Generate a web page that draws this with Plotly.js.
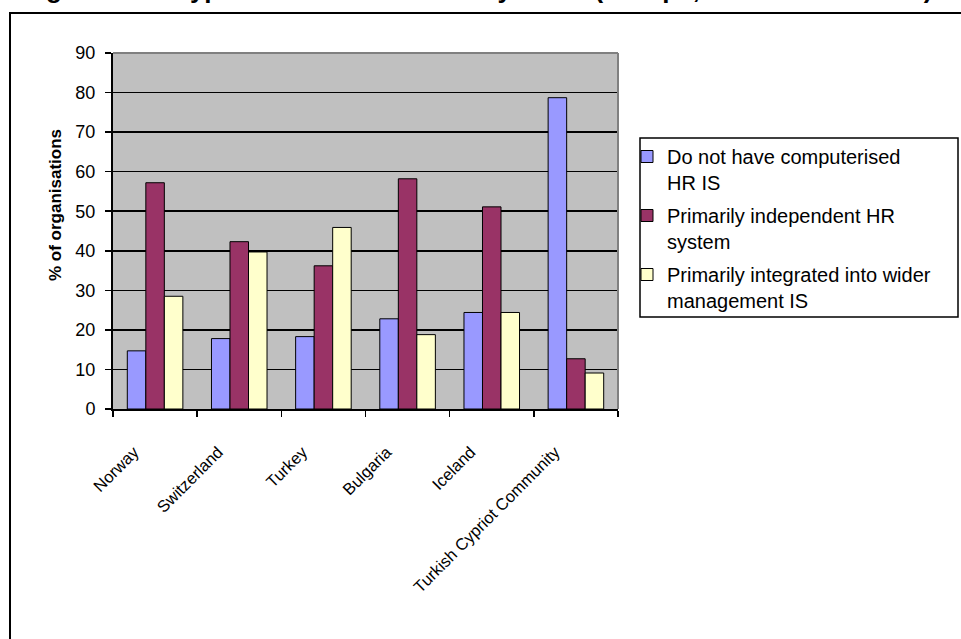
<!DOCTYPE html>
<html>
<head>
<meta charset="utf-8">
<script src="https://cdn.plot.ly/plotly-3.0.1.min.js"></script>
<style>html,body{margin:0;padding:0;background:#fff;}#chart{width:961px;height:639px;}</style>
</head>
<body>
<div id="chart"></div>
<script>
const countries = ["Norway", "Switzerland", "Turkey", "Bulgaria", "Iceland", "Turkish Cypriot Community"];
const seriesNames = ["Do not have computerised<br>HR IS", "Primarily independent HR<br>system", "Primarily integrated into wider<br>management IS"];
const noComputerised = [14.7, 17.8, 18.3, 22.8, 24.4, 78.7];
const independentHR = [57.2, 42.3, 36.2, 58.2, 51.1, 12.7];
const integratedIS = [28.5, 39.7, 45.9, 18.8, 24.4, 9.1];
const seriesColors = ["#9999FF", "#993366", "#FFFFCC"];
const titleText = "Figure 10.4: Types of HR information systems (Europe, non-EU countries)";
const yTitle = "% of organisations";

const FONT = "Liberation Sans, Arial, sans-serif";
const W = 961, H = 639;
const L = 113, R = 618, T = 53, B = 409;
const pw = R - L, ph = B - T;
const px = x => (x - L) / pw;
const py = y => (B - y) / ph;

const allValues = [noComputerised, independentHR, integratedIS];
const traces = allValues.map((vals, i) => ({
  type: "bar",
  name: seriesNames[i],
  legendgroup: "g" + i,
  x: countries,
  y: vals,
  marker: {color: seriesColors[i], line: {color: "#000000", width: 1}},
  hoverinfo: "x+y"
}));

const layout = {
  width: W, height: H,
  margin: {l: L, r: W - R, t: T, b: H - B, pad: 0},
  paper_bgcolor: "#FFFFFF",
  plot_bgcolor: "#C0C0C0",
  font: {family: FONT, color: "#000000"},
  barmode: "group",
  bargap: 0.34,
  bargroupgap: 0,
  title: {
    text: "<b>" + titleText + "</b>",
    font: {family: FONT, size: 26, color: "#000000"},
    xref: "container", yref: "container",
    x: 0.497, xanchor: "center",
    y: 1, yanchor: "bottom",
    pad: {b: 2, t: 0, l: 0, r: 0}
  },
  xaxis: {
    type: "category",
    showline: true, linecolor: "#000000", linewidth: 2,
    ticks: "outside", tickson: "boundaries", ticklen: 6, tickwidth: 1.5, tickcolor: "#000000",
    tickangle: -45,
    tickfont: {family: FONT, size: 16.5, color: "#000000"},
    ticklabelshift: -21,
    ticklabelstandoff: 25,
    showgrid: false, zeroline: false,
    fixedrange: true
  },
  yaxis: {
    range: [0, 90], dtick: 10, tick0: 0,
    showline: true, linecolor: "#000000", linewidth: 2,
    ticks: "outside", ticklen: 6, tickwidth: 1.5, tickcolor: "#000000",
    tickfont: {family: FONT, size: 18, color: "#000000"},
    ticklabelstandoff: 6,
    showgrid: true, gridcolor: "#000000", gridwidth: 1.5,
    zeroline: false,
    fixedrange: true
  },
  showlegend: true,
  legend: {
    x: px(627), xanchor: "left",
    y: py(137), yanchor: "top",
    bgcolor: "rgba(0,0,0,0)",
    borderwidth: 0,
    font: {family: FONT, size: 20, color: "#000000"},
    valign: "top",
    traceorder: "grouped",
    tracegroupgap: 4
  },
  annotations: [{
    text: "<b>" + yTitle + "</b>",
    xref: "paper", yref: "paper",
    x: px(55), y: py(205),
    xanchor: "center", yanchor: "middle",
    textangle: -90,
    showarrow: false,
    font: {family: FONT, size: 17, color: "#000000"}
  }],
  shapes: [
    {type: "line", xref: "paper", yref: "paper", x0: 0, x1: 1, y0: 1, y1: 1, line: {color: "#808080", width: 2}},
    {type: "line", xref: "paper", yref: "paper", x0: 1, x1: 1, y0: 0, y1: 1, line: {color: "#808080", width: 2}},
    {type: "rect", xref: "paper", yref: "paper", x0: px(640), x1: px(958), y0: py(317), y1: py(138), line: {color: "#000000", width: 1.5}, fillcolor: "rgba(0,0,0,0)"},
    {type: "rect", xref: "paper", yref: "paper", x0: px(10), x1: px(990), y0: py(680), y1: py(13), line: {color: "#000000", width: 2}, fillcolor: "rgba(0,0,0,0)"}
  ]
};

Plotly.newPlot("chart", traces, layout, {displayModeBar: false, staticPlot: true});
</script>
</body>
</html>
